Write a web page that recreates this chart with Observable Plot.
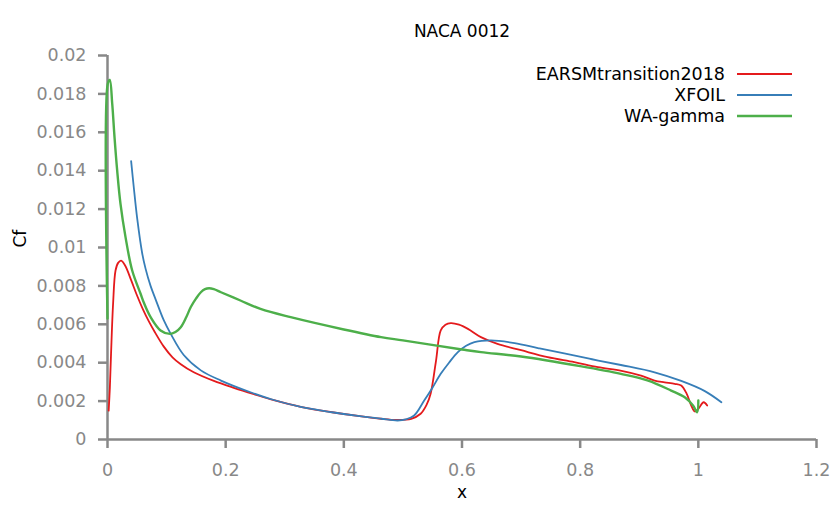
<!DOCTYPE html>
<html><head><meta charset="utf-8">
<script src="https://cdn.jsdelivr.net/npm/d3@7"></script>
<script src="https://cdn.jsdelivr.net/npm/@observablehq/plot@0.6"></script>
<style>
body{margin:0;background:#fff;font-family:"DejaVu Sans",sans-serif;}
#wrap{position:relative;width:830px;height:506px;}
#legend{position:absolute;right:38px;top:63.5px;font-size:17.5px;color:#000;}
.row{display:flex;justify-content:flex-end;align-items:center;height:21px;white-space:nowrap;}
.row svg{margin-left:12px;display:block;}
</style></head><body><div id="wrap"><div id="chart"></div><div id="legend"></div></div>
<script>
const title = "NACA 0012";
const xLabel = "x";
const yLabel = "Cf";
const seriesNames = ["EARSMtransition2018", "XFOIL", "WA-gamma"];
const seriesColors = ["#e41a1c", "#377eb8", "#4daf4a"];
const seriesWidths = [1.8, 1.8, 2.4];
const xTicks = [0, 0.2, 0.4, 0.6, 0.8, 1, 1.2];
const yTicks = [0, 0.002, 0.004, 0.006, 0.008, 0.01, 0.012, 0.014, 0.016, 0.018, 0.02];

const earsmX = [0.002, 0.004, 0.006, 0.0095, 0.0136, 0.018, 0.023, 0.03, 0.04, 0.05, 0.06, 0.07, 0.08, 0.095, 0.11, 0.124, 0.146, 0.18, 0.215, 0.25, 0.28, 0.327, 0.38, 0.43, 0.463, 0.49, 0.514, 0.53, 0.54, 0.547, 0.556, 0.564, 0.572, 0.581, 0.595, 0.61, 0.632, 0.66, 0.7, 0.745, 0.79, 0.83, 0.87, 0.903, 0.926, 0.943, 0.96, 0.971, 0.98, 0.988, 0.994, 1.0, 1.009, 1.015];
const earsmY = [0.0015, 0.0027, 0.00446, 0.0071, 0.0088, 0.0092, 0.00932, 0.00905, 0.0083, 0.0075, 0.00678, 0.00615, 0.0056, 0.00485, 0.00428, 0.00392, 0.0035, 0.00305, 0.00268, 0.00234, 0.00206, 0.0017, 0.00142, 0.0012, 0.00108, 0.00102, 0.00108, 0.00134, 0.0018, 0.0024, 0.0041, 0.00568, 0.00598, 0.00606, 0.00598, 0.00576, 0.00533, 0.00498, 0.00465, 0.00429, 0.00403, 0.00377, 0.00358, 0.00333, 0.00307, 0.00298, 0.0029, 0.00281, 0.0024, 0.00177, 0.00146, 0.0016, 0.00194, 0.00177];

const xfoilX = [0.040, 0.0446, 0.0503, 0.0587, 0.0644, 0.0729, 0.0814, 0.0954, 0.107, 0.129, 0.158, 0.192, 0.242, 0.28, 0.327, 0.38, 0.43, 0.463, 0.491, 0.505, 0.519, 0.536, 0.55, 0.564, 0.578, 0.593, 0.607, 0.621, 0.649, 0.689, 0.73, 0.773, 0.82, 0.869, 0.926, 0.971, 1.011, 1.039];
const xfoilY = [0.0145, 0.0131, 0.0115, 0.0097, 0.0089, 0.0080, 0.0073, 0.0062, 0.0055, 0.0044, 0.0036, 0.00307, 0.00246, 0.00207, 0.0017, 0.00142, 0.0012, 0.00108, 0.00099, 0.00105, 0.00125, 0.00203, 0.0027, 0.00342, 0.004, 0.00455, 0.00488, 0.00507, 0.00516, 0.00502, 0.00475, 0.00449, 0.00418, 0.00388, 0.0035, 0.00305, 0.00252, 0.00194];

const wagX = [0, 0.0003, 0.0039, 0.008, 0.0119, 0.0164, 0.022, 0.0305, 0.0418, 0.056, 0.0616, 0.073, 0.0898, 0.1056, 0.115, 0.124, 0.133, 0.141, 0.15, 0.158, 0.165, 0.172, 0.18, 0.192, 0.225, 0.259, 0.31, 0.4, 0.463, 0.5, 0.6, 0.632, 0.7, 0.8, 0.869, 0.915, 0.954, 0.977, 0.991, 0.998, 1.0];
const wagY = [0.0063, 0.0185, 0.01873, 0.01748, 0.01574, 0.0140, 0.01227, 0.01054, 0.0088, 0.00759, 0.00712, 0.00637, 0.00568, 0.0055, 0.0056, 0.00585, 0.00635, 0.0069, 0.00735, 0.00767, 0.00783, 0.00788, 0.00783, 0.00767, 0.00724, 0.0068, 0.00637, 0.00573, 0.00533, 0.00516, 0.00469, 0.00455, 0.00432, 0.00382, 0.00342, 0.00307, 0.00255, 0.0022, 0.00177, 0.00142, 0.00203];

const seriesX = [earsmX, xfoilX, wagX];
const seriesY = [earsmY, xfoilY, wagY];
const rows = seriesNames.map((name, i) => seriesX[i].map((x, j) => ({series: name, x, y: seriesY[i][j]})));

const axisColor = "#888888";
const chart = Plot.plot({
  width: 830, height: 506,
  marginLeft: 107, marginRight: 14, marginTop: 55, marginBottom: 67,
  style: {fontFamily: "DejaVu Sans", fontSize: "17.5px", background: "#fff"},
  x: {domain: [0, 1.2]},
  y: {domain: [0, 0.02]},
  marks: [
    Plot.axisX({ticks: xTicks, tickSize: 9, tickPadding: 15, tickFormat: d => String(d), color: axisColor, strokeWidth: 2.5, label: null}),
    Plot.axisY({ticks: yTicks, tickSize: 9, tickPadding: 12, tickFormat: d => String(d), color: axisColor, strokeWidth: 2.5, label: null}),
    Plot.ruleX([0], {stroke: axisColor, strokeWidth: 2.5}),
    Plot.ruleY([0], {stroke: axisColor, strokeWidth: 2.5}),
    ...rows.map((r, i) => Plot.line(r, {x: "x", y: "y", stroke: seriesColors[i], strokeWidth: seriesWidths[i], curve: "catmull-rom"})),
    Plot.text([title], {frameAnchor: "top", dy: -31, fill: "#000", fontSize: 17}),
    Plot.text([xLabel], {frameAnchor: "bottom", dy: 58, fill: "#000", fontSize: 17}),
    Plot.text([yLabel], {frameAnchor: "left", dx: -87, rotate: -90, fill: "#000", fontSize: 17})
  ]
});
document.getElementById("chart").appendChild(chart);

const legend = document.getElementById("legend");
seriesNames.forEach((name, i) => {
  const row = document.createElement("div");
  row.className = "row";
  const span = document.createElement("span");
  span.textContent = name;
  row.appendChild(span);
  const ns = "http://www.w3.org/2000/svg";
  const svg = document.createElementNS(ns, "svg");
  svg.setAttribute("width", 55); svg.setAttribute("height", 6);
  const ln = document.createElementNS(ns, "line");
  ln.setAttribute("x1", 0); ln.setAttribute("x2", 55); ln.setAttribute("y1", 3); ln.setAttribute("y2", 3);
  ln.setAttribute("stroke", seriesColors[i]); ln.setAttribute("stroke-width", seriesWidths[i]);
  svg.appendChild(ln);
  row.appendChild(svg);
  legend.appendChild(row);
});
</script></body></html>
